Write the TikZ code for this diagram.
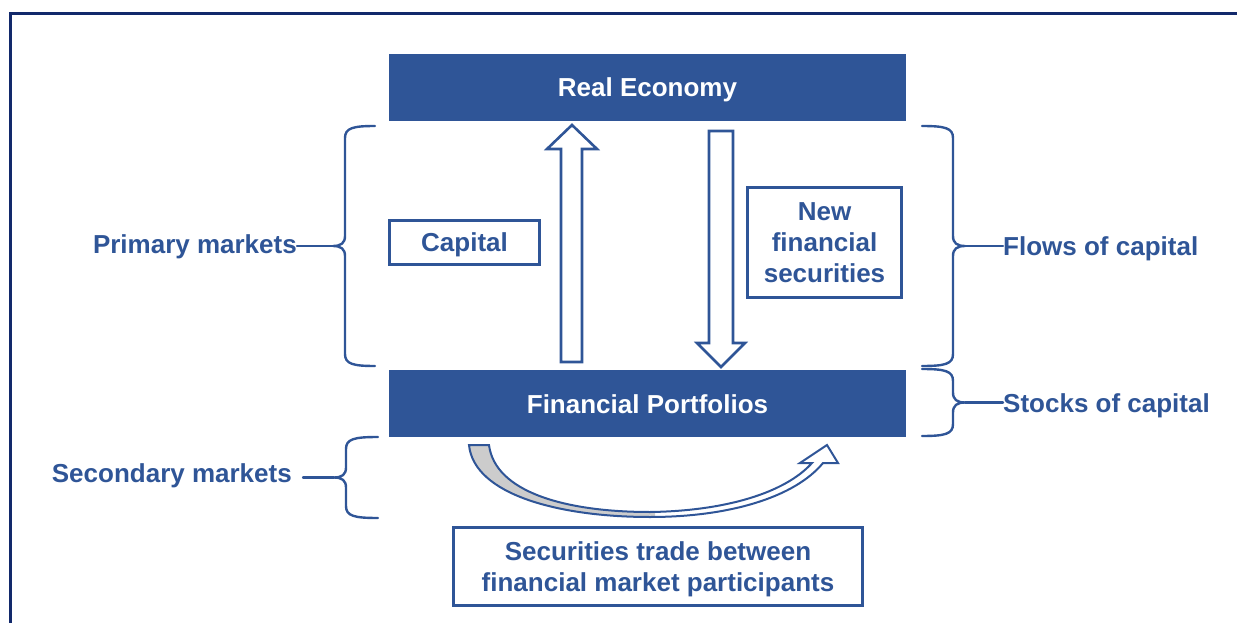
\documentclass[tikz,border=0pt]{standalone}
\usepackage{fontspec}
\setmainfont{Liberation Sans}
\usetikzlibrary{calc}

\definecolor{ppblue}{HTML}{2F5597}
\definecolor{framenavy}{HTML}{12296B}

\tikzset{
  panel/.style={fill=ppblue, text=white, minimum width=517, minimum height=67, inner sep=0pt,
    text height=19pt, text depth=0pt},
  tag/.style={draw=ppblue, line width=2.6pt, text=ppblue, align=center, inner sep=0pt, text depth=0pt},
  side/.style={text=ppblue, inner sep=0pt, text height=19pt, text depth=0pt},
  curly/.style={draw=ppblue, line width=2.4pt, line cap=round, line join=round},
  block/.style={draw=ppblue, fill=white, line width=2.6pt, line join=miter},
}

% curly bracket: #1 tip name, #2 end x, #3 bar x, #4 top y, #5 bottom y, #6 side (-1 left, 1 right)
\newcommand\curly[6]{%
  \pgfmathsetmacro\cmid{(#4+#5)/2}
  \draw[curly] (#2,#4) .. controls ({#3-8*(#6)},#4) and (#3,#4+2) .. (#3,#4+12)
    -- (#3,\cmid-10) .. controls (#3,\cmid-3) and ({#3+4*(#6)},\cmid) .. ({#3+12*(#6)},\cmid) coordinate (#1)
    .. controls ({#3+4*(#6)},\cmid) and (#3,\cmid+3) .. (#3,\cmid+10)
    -- (#3,#5-12) .. controls (#3,#5-2) and ({#3-8*(#6)},#5) .. (#2,#5);
}

\begin{document}
\begin{tikzpicture}[x=1pt,y=-1pt,font=\fontsize{26}{31}\selectfont\bfseries]
  \useasboundingbox (0,0) rectangle (1237,623);
  \draw[framenavy, line width=3pt] (10.5,640) -- (10.5,13.5) -- (1250,13.5);

  % the two levels
  \node[panel] (real)  at (647.5,87.5)  {Real Economy};
  \node[panel] (portf) at (647.5,403.5) {Financial Portfolios};

  % primary market flows
  \draw[block] (561,362) -- (561,149) -- (547,149) -- (572,125) -- (597,149) -- (582,149) -- (582,362) -- cycle;
  \draw[block] (709,131) -- (733,131) -- (733,343) -- (745,343) -- (721,367) -- (697,343) -- (709,343) -- cycle;
  \node[tag, minimum width=150, minimum height=44]  (capital) at (464.5,242.5) {Capital};
  \node[tag, minimum width=154, minimum height=110] (newsec)  at (824.5,242.5) {New\\financial\\securities};

  % secondary market trading
  \path[save path=\tradeshape] (469,445) .. controls (474,495) and (560,517) .. (650,517)
    .. controls (730,517) and (795,497) .. (823,463) -- (838,463) -- (827,445) -- (800,463) -- (812,463)
    .. controls (785,493) and (725,511) .. (650,512) .. controls (565,512) and (495,492) .. (489,445) -- cycle;
  \begin{scope}
    \clip (460,440) rectangle (655,525);
    \fill[black!20, use path=\tradeshape];
  \end{scope}
  \draw[ppblue, line width=2pt, line join=miter, use path=\tradeshape];
  \node[tag, minimum width=409, minimum height=78] (trade) at (658,566.5) {Securities trade between\\financial market participants};

  % brackets and their labels
  \curly{ptip}{375}{345}{126}{366}{-1}
  \curly{ftip}{922}{953}{126}{366}{1}
  \curly{stip}{922}{953}{369}{436}{1}
  \curly{sectip}{378}{346}{437}{518}{-1}

  \node[side, anchor=east] (primary)   at (297,244) {Primary markets};
  \node[side, anchor=west] (flows)     at (1003,246) {Flows of capital};
  \node[side, anchor=west] (stocks)    at (1003,403) {Stocks of capital};
  \node[side, anchor=east] (secondary) at (292,473) {Secondary markets};

  \draw[curly] (ptip) -- (ptip -| primary.east);
  \draw[curly] (ftip) -- (ftip -| flows.west);
  \draw[curly] (stip) -- (stip -| stocks.west);
  \draw[curly] (sectip) -- ([xshift=11pt]sectip -| secondary.east);
\end{tikzpicture}
\end{document}
